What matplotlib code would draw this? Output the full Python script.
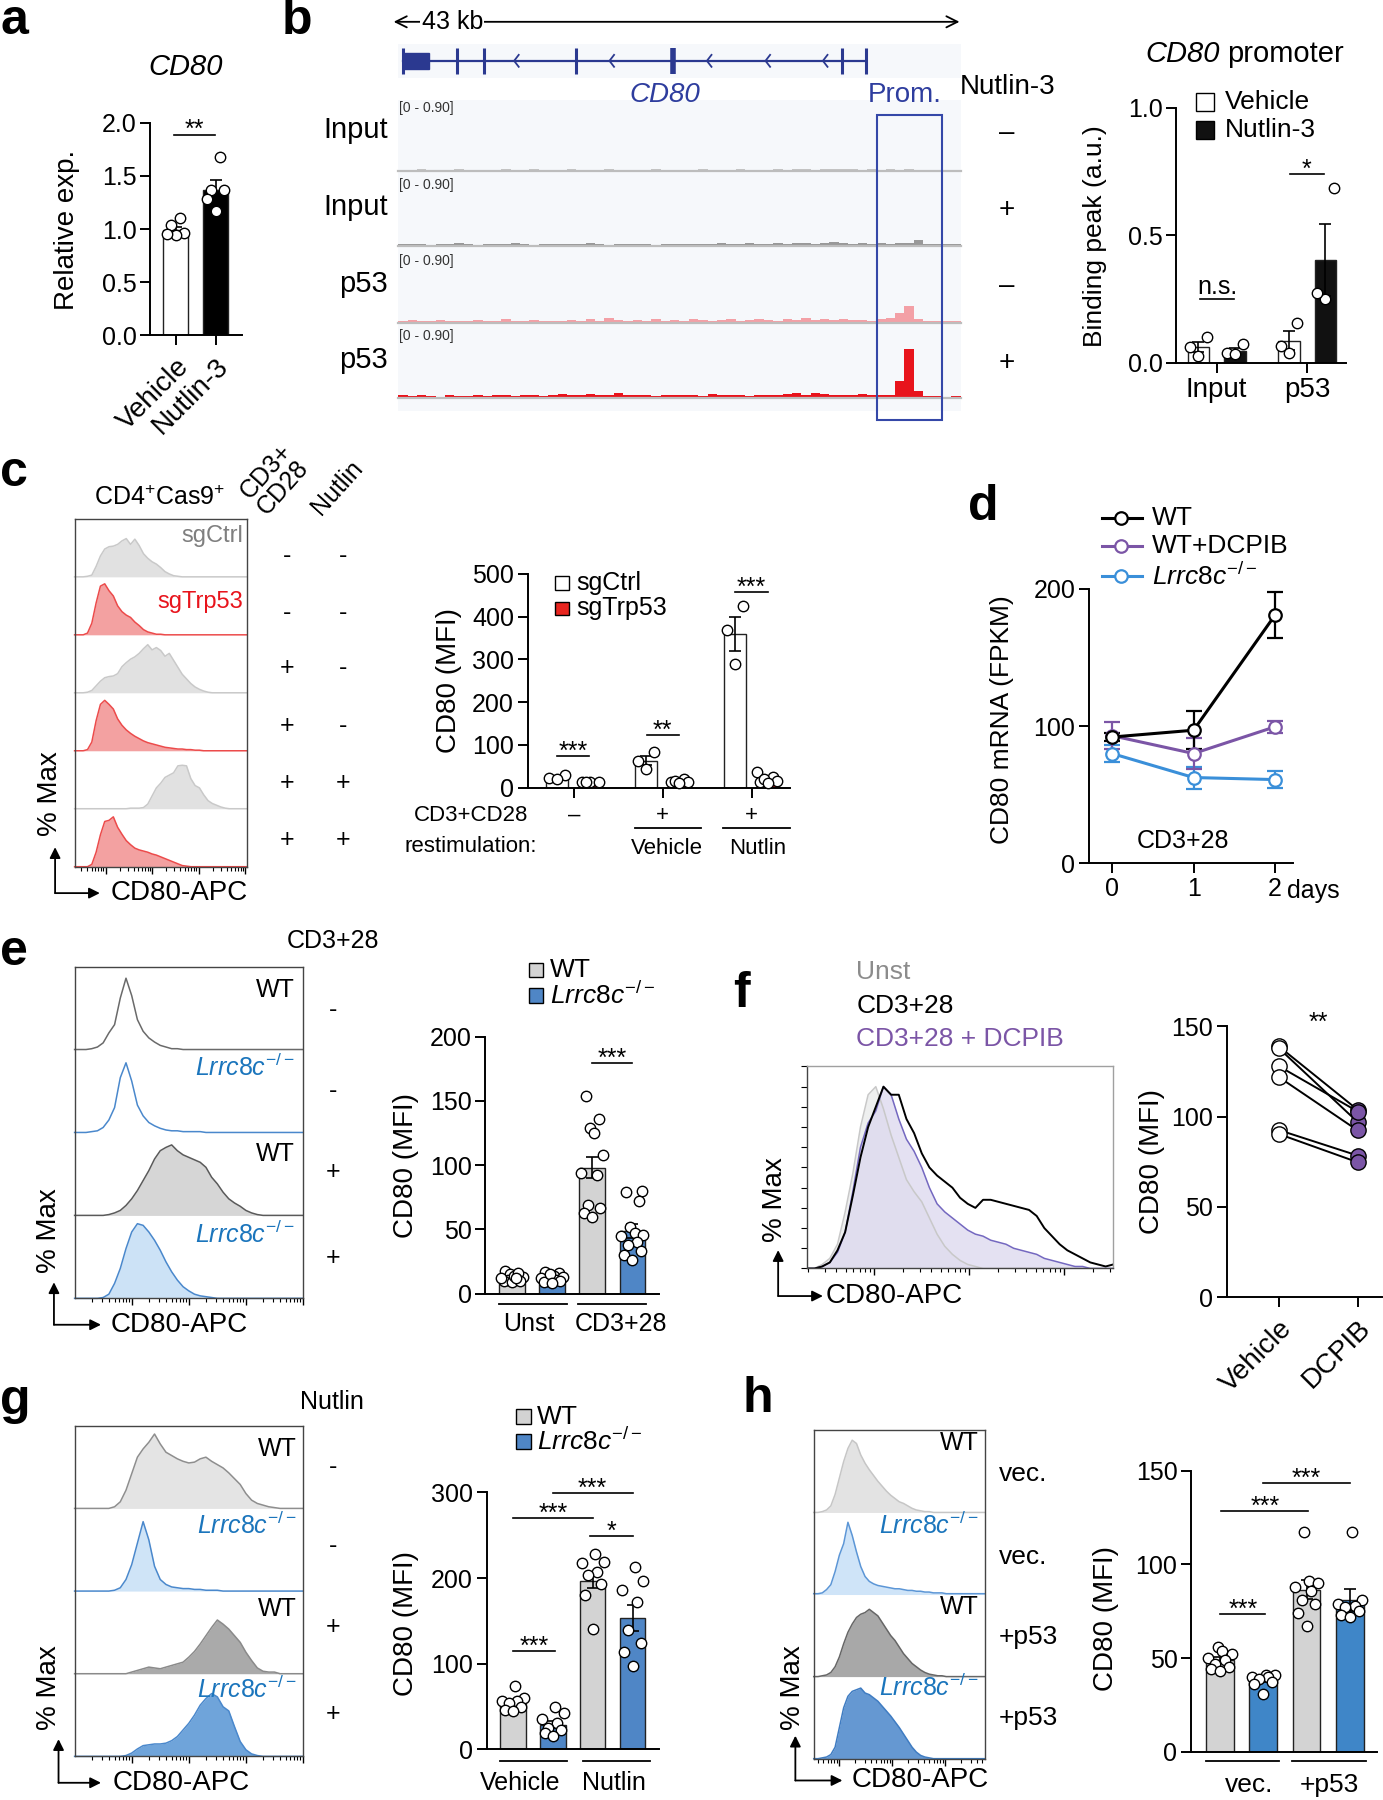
import numpy as np
import matplotlib
matplotlib.use('Agg')
import matplotlib.pyplot as plt
from matplotlib.lines import Line2D
from matplotlib.patches import Rectangle, FancyArrowPatch

plt.rcParams['font.family'] = ['Liberation Sans', 'DejaVu Sans']
plt.rcParams['mathtext.fontset'] = 'custom'
plt.rcParams['mathtext.rm'] = 'Liberation Sans'
plt.rcParams['mathtext.it'] = 'Liberation Sans:italic'
plt.rcParams['mathtext.bf'] = 'Liberation Sans:bold'
plt.rcParams['mathtext.sf'] = 'Liberation Sans'

# ======================= DATA =======================
# panel a
a_groups = ['Vehicle', 'Nutlin-3']
a_means = [0.99, 1.37]
a_sems = [0.03, 0.09]
a_points = [[1.10, 1.04, 0.96, 0.94, 0.95], [1.68, 1.37, 1.37, 1.28, 1.17]]

# panel b (genome tracks, 60 bins across the locus, scale 0-0.90)
b_track_labels = ['Input', 'Input', 'p53', 'p53']
b_track_nutlin = ['–', '+', '–', '+']
b_track1 = [0.02, 0.01, 0.03, 0.02, 0.01, 0.02, 0.03, 0.01, 0.02, 0.01,
            0.02, 0.03, 0.01, 0.02, 0.04, 0.01, 0.02, 0.01, 0.03, 0.02,
            0.01, 0.02, 0.03, 0.01, 0.02, 0.01, 0.02, 0.03, 0.02, 0.01,
            0.02, 0.01, 0.03, 0.02, 0.01, 0.02, 0.04, 0.02, 0.01, 0.02,
            0.03, 0.02, 0.04, 0.03, 0.02, 0.04, 0.03, 0.03, 0.04, 0.02,
            0.03, 0.02, 0.03, 0.02, 0.03, 0.02, 0.01, 0.02, 0.01, 0.02]
b_track2 = [0.02, 0.03, 0.02, 0.01, 0.03, 0.02, 0.04, 0.02, 0.01, 0.02,
            0.03, 0.02, 0.05, 0.02, 0.01, 0.03, 0.02, 0.02, 0.03, 0.02,
            0.04, 0.02, 0.01, 0.02, 0.02, 0.03, 0.02, 0.01, 0.02, 0.02,
            0.03, 0.02, 0.03, 0.02, 0.04, 0.02, 0.03, 0.04, 0.02, 0.03,
            0.04, 0.03, 0.05, 0.04, 0.03, 0.05, 0.06, 0.04, 0.03, 0.04,
            0.03, 0.04, 0.03, 0.05, 0.04, 0.09, 0.02, 0.03, 0.02, 0.02]
b_track3 = [0.03, 0.04, 0.03, 0.02, 0.04, 0.03, 0.02, 0.03, 0.04, 0.02,
            0.03, 0.05, 0.03, 0.02, 0.04, 0.03, 0.02, 0.03, 0.04, 0.03,
            0.05, 0.03, 0.08, 0.04, 0.03, 0.04, 0.03, 0.05, 0.03, 0.04,
            0.03, 0.05, 0.04, 0.03, 0.04, 0.05, 0.03, 0.04, 0.06, 0.04,
            0.03, 0.05, 0.04, 0.07, 0.04, 0.05, 0.04, 0.05, 0.04, 0.04,
            0.03, 0.05, 0.08, 0.15, 0.26, 0.05, 0.02, 0.03, 0.02, 0.03]
b_track4 = [0.06, 0.04, 0.05, 0.03, 0.02, 0.05, 0.04, 0.03, 0.05, 0.04,
            0.06, 0.05, 0.04, 0.05, 0.06, 0.04, 0.05, 0.07, 0.06, 0.05,
            0.07, 0.06, 0.05, 0.08, 0.06, 0.05, 0.06, 0.04, 0.06, 0.05,
            0.06, 0.05, 0.04, 0.07, 0.06, 0.05, 0.06, 0.04, 0.05, 0.06,
            0.05, 0.07, 0.08, 0.06, 0.09, 0.07, 0.05, 0.06, 0.05, 0.07,
            0.06, 0.05, 0.06, 0.28, 0.79, 0.12, 0.03, 0.04, 0.02, 0.04]
b_gene_span_kb = [0.35, 35.8]
b_exon_block_kb = [0.35, 2.37]
b_exons_kb = [4.48, 6.58, 13.6, 33.96, 35.8]
b_thick_exon_kb = [20.97]
b_chevrons_kb = [8.86, 16.15, 23.6, 28.08, 32.47]

# panel b right (CD80 promoter)
bp_groups = ['Input', 'p53']
bp_means_veh = [0.063, 0.087]
bp_sems_veh = [0.02, 0.036]
bp_means_nut = [0.045, 0.403]
bp_sems_nut = [0.012, 0.142]
bp_pts_veh = [[0.10, 0.063, 0.026], [0.157, 0.066, 0.037]]
bp_pts_nut = [[0.073, 0.037, 0.034], [0.685, 0.249, 0.275]]

# panel c flow rows (% of max over CD80-APC bins)
c_h1 = [0, 0, 0, 1, 3, 18, 36, 48, 52, 53, 56, 62, 66, 56, 65, 54, 40, 32, 26, 22, 16, 9, 5, 2, 1,
        0, 0, 0, 0, 0, 0, 0, 0, 0, 0, 0, 0, 0, 0, 0, 0]
c_h2 = [0, 0, 0, 3, 20, 55, 84, 88, 76, 67, 50, 40, 34, 30, 22, 16, 9, 5, 3, 1, 1,
        0, 0, 0, 0, 0, 0, 0, 0, 0, 0, 0, 0, 0, 0, 0, 0, 0, 0, 0, 0]
c_h3 = [0, 0, 0, 1, 4, 12, 20, 26, 28, 29, 33, 45, 52, 58, 62, 68, 76, 83, 74, 78, 73, 63, 68, 56, 44,
        32, 24, 16, 10, 6, 3, 1, 0, 0, 0, 0, 0, 0, 0, 0, 0]
c_h4 = [0, 0, 0, 2, 15, 52, 80, 87, 80, 72, 55, 44, 36, 30, 25, 21, 17, 14, 12, 10, 8, 6, 5, 4, 3,
        3, 2, 2, 1, 1, 0, 0, 0, 0, 0, 0, 0, 0, 0, 0, 0]
c_h5 = [0, 0, 0, 0, 0, 0, 0, 0, 0, 0, 0, 0, 0, 1, 1, 1, 2, 8, 22, 36, 44, 54, 58, 62, 74,
        75, 74, 52, 40, 36, 24, 14, 9, 6, 3, 1, 0, 0, 0, 0, 0]
c_h6 = [0, 0, 0, 0, 4, 25, 55, 78, 80, 86, 68, 56, 45, 38, 32, 29, 27, 25, 22, 20, 17, 14, 11, 8, 5,
        2, 1, 0, 0, 0, 0, 0, 0, 0, 0, 0, 0, 0, 0, 0, 0]
c_cd3 = ['-', '-', '+', '+', '+', '+']
c_nut = ['-', '-', '-', '-', '+', '+']

# panel c bars
c_groups = ['–', '+', '+']
c_means_ctrl = [25, 63, 360]
c_sems_ctrl = [2, 11, 40]
c_means_trp = [13, 13, 18]
c_sems_trp = [0.5, 1.5, 5]
c_pts_ctrl = [[23, 29, 21], [83, 62, 44], [426, 368, 290]]
c_pts_trp = [[13, 12, 14, 13], [19, 14, 12, 16, 11], [37, 25, 15, 13, 19, 10]]

# panel d
d_days = [0, 1, 2]
d_wt = [92, 97, 181]
d_wt_err = [3, 14, 16.5]
d_dcpib = [93, 80, 99.5]
d_dcpib_err = [10, 11, 4.5]
d_lrrc = [80, 62.5, 61]
d_lrrc_err = [6, 8, 6]

# panel e flow
e_h1 = [0, 0, 0, 1, 3, 8, 20, 30, 62, 86, 65, 36, 22, 14, 9, 5, 3, 1, 1,
        0, 0, 0, 0, 0, 0, 0, 0, 0, 0, 0, 0, 0, 0, 0, 0, 0, 0, 0, 0, 0, 0]
e_h2 = [0, 0, 0, 1, 2, 6, 15, 30, 66, 84, 62, 33, 20, 12, 8, 5, 3, 2, 2, 1, 1, 1, 1,
        0, 0, 0, 0, 0, 0, 0, 0, 0, 0, 0, 0, 0, 0, 0, 0, 0, 0]
e_h3 = [0, 0, 0, 0, 0, 0, 1, 3, 6, 12, 20, 30, 42, 54, 68, 78, 82, 85, 78, 73, 70, 67, 64, 58, 46,
        38, 28, 20, 15, 11, 6, 3, 1, 0, 0, 0, 0, 0, 0, 0, 0]
e_h4 = [0, 0, 0, 0, 0, 1, 5, 18, 36, 60, 80, 90, 88, 80, 70, 58, 44, 32, 22, 14, 9, 5, 3, 2, 1,
        0, 0, 0, 0, 0, 0, 0, 0, 0, 0, 0, 0, 0, 0, 0, 0]
e_stim = ['-', '-', '+', '+']
# panel e bars
e_groups = ['Unst', 'CD3+28']
e_means = [12.2, 11.7, 98, 48.5]
e_sems = [0.8, 0.8, 8, 5.5]
e_pts = [[18, 15, 13, 11, 10, 9, 12, 14, 16, 10, 12],
         [17, 16, 14, 12, 10, 9, 11, 13, 15, 10, 8],
         [154, 136, 129, 125, 108, 94, 92, 69, 67, 63, 60],
         [80, 79, 72, 52, 47, 46, 40, 38, 33, 30, 26, 45]]

# panel f flow
f_unst = [0, 0, 2, 5, 12, 28, 47, 70, 86, 90, 79, 66, 55, 44, 38, 33, 25, 17, 11, 7, 4, 2, 1,
          0, 0, 0, 0, 0, 0, 0, 0, 0, 0, 0, 0, 0, 0, 0, 0, 0, 0]
f_dcpib = [0, 0, 1, 3, 8, 18, 38, 60, 72, 78, 90, 86, 74, 64, 58, 50, 40, 32, 28, 25, 22, 19, 17, 16, 14,
           13, 12, 10, 9, 8, 7, 5, 4, 3, 2, 1, 1, 0, 0, 0, 0]
f_cd3 = [0, 0, 1, 3, 9, 18, 36, 55, 70, 80, 90, 86, 86, 74, 67, 57, 50, 46, 43, 40, 35, 32, 30, 34, 34,
         33, 32, 31, 30, 29, 26, 20, 16, 12, 9, 7, 5, 3, 2, 1, 2]
# panel f paired
f_groups = ['Vehicle', 'DCPIB']
f_vehicle = [139, 138, 128, 122, 92.6, 90.4]
f_dcpib_mfi = [103.7, 96.9, 102.8, 92.3, 78.4, 74.7]

# panel g flow
g_h1 = [0, 0, 0, 0, 0, 0, 0, 2, 8, 22, 42, 62, 72, 80, 90, 78, 68, 64, 60, 57, 55, 56, 60, 62, 57,
        53, 49, 43, 36, 29, 18, 10, 6, 4, 2, 1, 0, 0, 0, 0, 0]
g_h2 = [0, 0, 0, 0, 0, 0, 0, 1, 4, 14, 32, 58, 84, 62, 30, 14, 8, 5, 4, 3, 3, 2, 2, 1, 1,
        1, 0, 0, 0, 0, 0, 0, 0, 0, 0, 0, 0, 0, 0, 0, 0]
g_h3 = [0, 0, 0, 0, 0, 0, 0, 0, 0, 0, 2, 4, 6, 8, 7, 6, 8, 10, 12, 14, 20, 27, 36, 46, 56,
        65, 60, 54, 46, 38, 26, 16, 7, 3, 2, 2, 0, 0, 0, 0, 0]
g_h4 = [0, 0, 0, 0, 0, 0, 0, 0, 0, 1, 4, 9, 13, 14, 15, 15, 16, 19, 24, 32, 40, 50, 62, 70, 76,
        72, 60, 55, 36, 18, 8, 3, 1, 0, 0, 0, 0, 0, 0, 0, 0]
g_nut = ['-', '-', '+', '+']
# panel g bars
g_groups = ['Vehicle', 'Nutlin']
g_means = [53, 29, 197, 153]
g_sems = [3, 4, 9, 15]
g_pts = [[73.5, 60, 57, 56, 54, 50, 46.5, 44.5],
         [50, 42.6, 35.6, 31, 25, 23, 19, 15.5],
         [228, 217, 219, 207, 203, 193.5, 180, 141],
         [213, 197, 186, 172.5, 139, 124, 114, 97.5]]

# panel h flow
h_h1 = [0, 0, 1, 3, 8, 22, 42, 62, 78, 88, 84, 70, 60, 52, 45, 38, 32, 26, 21, 17, 13, 11, 8, 5, 3,
        2, 1, 1, 0, 0, 0, 0, 0, 0, 0, 0, 0, 0, 0, 0, 0]
h_h2 = [1, 1, 2, 6, 12, 28, 48, 62, 88, 72, 52, 34, 22, 16, 13, 11, 10, 9, 8, 7, 7, 6, 5, 5, 4,
        4, 3, 3, 2, 2, 2, 1, 1, 1, 1, 1, 1, 1, 1, 1, 1]
h_h3 = [0, 0, 1, 2, 5, 12, 24, 40, 54, 64, 72, 76, 78, 82, 78, 74, 66, 58, 50, 44, 36, 28, 22, 16, 12,
        8, 5, 3, 2, 1, 1, 0, 0, 0, 0, 0, 0, 0, 0, 0, 0]
h_h4 = [0, 0, 1, 2, 5, 14, 38, 62, 76, 82, 84, 86, 80, 78, 74, 70, 64, 58, 52, 45, 38, 30, 22, 14, 8,
        4, 2, 1, 0, 0, 0, 0, 0, 0, 0, 0, 0, 0, 0, 0, 0]
h_cond = ['vec.', 'vec.', '+p53', '+p53']
# panel h bars
h_groups = ['vec.', '+p53']
h_means = [48.8, 38.5, 86.5, 81]
h_sems = [1.5, 1.2, 5, 5.8]
h_pts = [[56, 54, 52, 50, 49, 47, 45, 44, 43],
         [41, 41, 40, 40, 39, 37, 36, 31],
         [117, 91, 90, 88, 86, 81, 79, 74, 67],
         [117, 81, 79, 78, 77, 75, 73, 72]]

# ======================= LAYOUT HELPERS =======================
W, H = 1205.0, 1568.0
fig = plt.figure(figsize=(13.83, 18.0), dpi=100)

GREY = '#D3D3D3'
BLUE = '#4F86C6'
BLUE_T = '#1B75BC'
PURPLE = '#7B55A6'
RED = '#E8251F'
LRRC = r'$\mathit{Lrrc8c}^{-/-}$'


def fx(x):
    return x / W


def fy(y):
    return 1 - y / H


def AX(x0, y0, x1, y1):
    return fig.add_axes([fx(x0), fy(y1), (x1 - x0) / W, (y1 - y0) / H])


def T(x, y, s, size=18, ha='center', va='center', **kw):
    fig.text(fx(x), fy(y), s, fontsize=size, ha=ha, va=va, **kw)


def L(x0, y0, x1, y1, lw=1.3, color='k'):
    fig.add_artist(Line2D([fx(x0), fx(x1)], [fy(y0), fy(y1)], lw=lw, color=color,
                          transform=fig.transFigure))


def ARROW(x0, y0, x1, y1):
    fig.add_artist(FancyArrowPatch((fx(x0), fy(y0)), (fx(x1), fy(y1)), transform=fig.transFigure,
                                   arrowstyle='-|>', mutation_scale=16, lw=1.3, color='k',
                                   shrinkA=0, shrinkB=0))


def SQ(x, y, s, fc, ec='k'):
    fig.add_artist(Rectangle((fx(x - s / 2), fy(y + s / 2)), s / W, s / H, fc=fc, ec=ec, lw=1.0,
                             transform=fig.transFigure))


def letter(x, y, s):
    T(x, y, s, size=36, ha='left', va='baseline', fontweight='bold')


def style(ax, ymax, yticks, xlim, yticklabels=None):
    ax.set_xlim(*xlim)
    ax.set_ylim(0, ymax)
    for s in ('top', 'right'):
        ax.spines[s].set_visible(False)
    for s in ('left', 'bottom'):
        ax.spines[s].set_linewidth(1.4)
    ax.spines['left'].set_bounds(0, ymax)
    ax.set_yticks(yticks)
    if yticklabels is not None:
        ax.set_yticklabels(yticklabels)
    ax.tick_params(axis='both', width=1.4, length=7, labelsize=18, pad=3)
    ax.patch.set_visible(False)


JIT = np.array([0, -0.75, 0.75, -0.4, 0.4, -1, 1, 0.2, -0.2, 0.6, -0.6, 0.9, -0.9])


def bars(ax, pos, means, sems, fcs, points, width, ms=7.5, spread=0.8, ec='#222222'):
    for p, m, s, fc, pts in zip(pos, means, sems, fcs, points):
        ax.bar(p, m, width=width, color=fc, edgecolor=ec, linewidth=1.0, zorder=2)
        ax.errorbar(p, m, yerr=s, color='k', capsize=4, capthick=1.2, elinewidth=1.2, zorder=3)
        order = np.argsort(pts)
        offs = np.zeros(len(pts))
        offs[order] = JIT[:len(pts)] * width * spread / 2
        ax.plot(p + offs, pts, 'o', mfc='white', mec='k', mew=1.0, ms=ms, zorder=4, clip_on=False)


def sig(ax, x0, x1, y, text, size=18, dy=-2):
    ax.plot([x0, x1], [y, y], color='k', lw=1.2, clip_on=False)
    ax.annotate(text, xy=((x0 + x1) / 2, y), xytext=(0, dy), textcoords='offset points',
                ha='center', va='baseline', fontsize=size, annotation_clip=False)


def flow_box(x0, y0, x1, y1, starts, width, left_ticks=False):
    box = AX(x0, y0, x1, y1)
    box.patch.set_visible(False)
    box.set_xlim(0, 1)
    box.set_ylim(0, 1)
    for s in box.spines.values():
        s.set_linewidth(1.0)
        s.set_color('#444444')
    majors = [s + width for s in starts]
    minors = []
    for s in starts:
        for k in range(2, 10):
            v = s + width * np.log10(k)
            if 0 < v < 1:
                minors.append(v)
    box.set_xticks([m for m in majors if 0 < m <= 1])
    box.set_xticks(minors, minor=True)
    box.set_xticklabels([])
    box.tick_params(axis='x', which='major', length=5, width=1.0, direction='out')
    box.tick_params(axis='x', which='minor', length=3, width=0.8, direction='out')
    if left_ticks:
        box.set_yticks(np.arange(0, 1.01, 0.1))
        box.set_yticklabels([])
        box.tick_params(axis='y', length=4, width=0.8, direction='out')
    else:
        box.set_yticks([])
    return box


def flow_rows(x0, y0, x1, y1, rows):
    n = len(rows)
    hgt = (y1 - y0) / n
    for i, (ys, fc, ec) in enumerate(rows):
        ax = AX(x0, y0 + i * hgt, x1, y0 + (i + 1) * hgt)
        xs = np.linspace(0, 1, len(ys))
        yv = np.array(ys) / 100.0
        ax.fill_between(xs, 0, yv, color=fc, lw=0)
        ax.plot(xs, yv, color=ec, lw=1.1, clip_on=False)
        ax.set_xlim(0, 1)
        ax.set_ylim(0, 1)
        ax.axis('off')


def flow_axes_labels(xm, ym, cx, cy, up_y, right_x, text_x):
    T(xm, ym, '% Max', size=20, rotation=90)
    ARROW(cx, cy, cx, up_y)
    ARROW(cx, cy, right_x, cy)
    T(text_x, cy, 'CD80-APC', size=20, ha='left')


# ======================= PANEL a =======================
letter(0, 30, 'a')
T(162, 58, 'CD80', size=21, fontstyle='italic')
ax = AX(131, 107, 211, 292)
style(ax, 2.0, [0, 0.5, 1.0, 1.5, 2.0], (-0.63, 1.66), ['0.0', '0.5', '1.0', '1.5', '2.0'])
bars(ax, [0, 1], a_means, a_sems, ['white', 'black'], a_points, 0.63, spread=0.9)
ax.set_xticks([0, 1])
ax.set_xticklabels(a_groups, rotation=45, ha='right', rotation_mode='anchor', fontsize=20)
ax.tick_params(axis='x', pad=6)
sig(ax, -0.04, 0.98, 1.89, '**')
T(58, 200, 'Relative exp.', size=20, rotation=90)

# ======================= PANEL b =======================
letter(245, 30, 'b')
fig.add_artist(FancyArrowPatch((fx(343), fy(19)), (fx(836), fy(19)), transform=fig.transFigure,
                               arrowstyle='<->', mutation_scale=20, lw=1.3, color='k',
                               shrinkA=0, shrinkB=0))
T(394, 19, '43 kb', size=18, bbox=dict(fc='white', ec='none', pad=1))
fig.add_artist(Rectangle((fx(347), fy(68)), 490 / W, 30 / H, fc='#F6F8FB', ec='none',
                         transform=fig.transFigure, zorder=0))
fig.add_artist(Rectangle((fx(347), fy(358)), 490 / W, 271 / H, fc='#F6F8FB', ec='none',
                         transform=fig.transFigure, zorder=0))
gx = AX(347, 40, 837, 66)
gx.set_xlim(0, 43)
gx.set_ylim(-1, 1)
gx.axis('off')
GC = '#2B3990'
gx.plot(b_gene_span_kb, [0, 0], color=GC, lw=1.6)
gx.add_patch(Rectangle((b_exon_block_kb[0], -0.55), b_exon_block_kb[1] - b_exon_block_kb[0], 1.1,
                       fc=GC, ec=GC))
gx.vlines([b_exon_block_kb[0]] + b_exons_kb, -0.85, 0.85, color=GC, lw=2.2)
gx.vlines(b_thick_exon_kb, -0.85, 0.85, color=GC, lw=4)
for c in b_chevrons_kb:
    gx.plot([c + 0.35, c, c + 0.35], [0.4, 0, -0.4], color=GC, lw=1.3)
T(579, 83, 'CD80', size=20, color='#2E3D9E', fontstyle='italic')
T(788, 83, 'Prom.', size=20, color='#2E3D9E')
T(878, 76, 'Nutlin-3', size=20)

tracks = [b_track1, b_track2, b_track3, b_track4]
tcols = ['#C4C4C4', '#999999', '#F3A0A6', '#E8141C']
baselines = [149, 214, 281, 347]
label_y = [113, 180, 247, 314]
sign_y = [116, 183, 249, 316]
rng_y = [94, 161, 227, 293]
for tr, col, yb, ly, sy, ry, lab, sgn in zip(tracks, tcols, baselines, label_y, sign_y, rng_y,
                                              b_track_labels, b_track_nutlin):
    tx = AX(347, yb - 49, 837, yb)
    tx.bar(np.arange(len(tr)), tr, width=1.0, align='edge', color=col, lw=0)
    tx.axhline(0, color='#BDBDBD', lw=1.6, clip_on=False)
    tx.set_xlim(0, len(tr))
    tx.set_ylim(0, 0.9)
    tx.axis('off')
    T(338, ly, lab, size=21, ha='right')
    T(877, sy, sgn, size=20)
    T(348, ry, '[0 - 0.90]', size=10, ha='left', color='#333333')
fig.add_artist(Rectangle((fx(764), fy(366)), 57 / W, 266 / H, fc='none', ec='#3548A8', lw=1.5,
                         transform=fig.transFigure))

# b right bar chart
T(1063, 47, 'CD80', size=21, ha='right', fontstyle='italic')
T(1069, 47, 'promoter', size=21, ha='left')
ax = AX(1025, 94, 1173, 316)
style(ax, 1.0, [0, 0.5, 1.0], (-0.443, 1.43), ['0.0', '0.5', '1.0'])
bars(ax, [-0.2, 0.8], bp_means_veh, bp_sems_veh, ['white', 'white'], bp_pts_veh, 0.24, spread=1.0)
bars(ax, [0.2, 1.2], bp_means_nut, bp_sems_nut, ['#111111', '#111111'], bp_pts_nut, 0.24, spread=1.0)
ax.set_xticks([0, 1])
ax.set_xticklabels(bp_groups, fontsize=20)
sig(ax, -0.18, 0.19, 0.252, 'n.s.', dy=3)
sig(ax, 0.81, 1.18, 0.739, '*')
T(954, 206, 'Binding peak (a.u.)', size=19, rotation=90)
SQ(1050, 89, 16, 'white')
SQ(1050, 113, 16, '#111111')
T(1067, 89, 'Vehicle', size=19, ha='left')
T(1067, 113, 'Nutlin-3', size=19, ha='left')

# ======================= PANEL c =======================
letter(0, 423, 'c')
T(139, 434, r'CD4$^{+}$Cas9$^{+}$', size=18)
fig.text(fx(236), fy(452), 'CD3+\nCD28', fontsize=18, rotation=48, ha='left', va='bottom',
         rotation_mode='anchor', linespacing=0.95)
fig.text(fx(283), fy(452), 'Nutlin', fontsize=18, rotation=48, ha='left', va='bottom',
         rotation_mode='anchor')
CG = ('#E1E1E1', '#C9C9C9')
CR = ('#F3A1A1', '#EC4B4B')
flow_rows(65, 452, 215, 755, [(c_h1,) + CG, (c_h2,) + CR, (c_h3,) + CG, (c_h4,) + CR,
                              (c_h5,) + CG, (c_h6,) + CR])
flow_box(65, 452, 215, 755, [-0.09, 0.18, 0.45, 0.72], 0.27)
T(212, 467, 'sgCtrl', size=17, ha='right', color='#7F7F7F')
T(212, 524, 'sgTrp53', size=17, ha='right', color='#E8141C')
for yy, s1, s2 in zip([484, 534, 582, 632, 682, 732], c_cd3, c_nut):
    T(250, yy, s1, size=18)
    T(299, yy, s2, size=18)
flow_axes_labels(44, 691, 48, 778, 738, 87, 96)

# c bars
ax = AX(460, 500, 688, 686)
style(ax, 500, [0, 100, 200, 300, 400, 500], (-0.516, 2.426))
bars(ax, [-0.187, 0.813, 1.813], c_means_ctrl, c_sems_ctrl, ['white'] * 3, c_pts_ctrl, 0.245, spread=1.0)
bars(ax, [0.187, 1.187, 2.187], c_means_trp, c_sems_trp, [RED] * 3, c_pts_trp, 0.245, spread=1.0)
ax.set_xticks([0, 1, 2])
ax.set_xticklabels([])
sig(ax, -0.19, 0.17, 72.6, '***')
sig(ax, 0.82, 1.18, 123.7, '**')
sig(ax, 1.81, 2.18, 457, '***')
T(391, 593, 'CD80 (MFI)', size=20, rotation=90)
SQ(490, 508, 12, 'white')
SQ(490, 530, 12, RED)
T(502, 508, 'sgCtrl', size=18, ha='left')
T(502, 530, 'sgTrp53', size=18, ha='left')
T(410, 710, 'CD3+CD28', size=16)
T(410, 737, 'restimulation:', size=16)
for xg, s in zip([500, 577, 655], c_groups):
    T(xg, 710, s, size=16)
L(553, 721, 611, 721)
L(630, 721, 688, 721)
T(581, 739, 'Vehicle', size=16)
T(660, 739, 'Nutlin', size=16)

# ======================= PANEL d =======================
letter(843, 453, 'd')
ax = AX(949, 513, 1127, 752)
style(ax, 200, [0, 100, 200], (-0.28, 2.225))
for vals, errs, col in [(d_lrrc, d_lrrc_err, '#3A8FD9'), (d_dcpib, d_dcpib_err, PURPLE),
                        (d_wt, d_wt_err, 'black')]:
    ax.errorbar(d_days, vals, yerr=errs, color=col, lw=2.2, capsize=6, capthick=1.6,
                elinewidth=1.6, marker='o', mfc='white', mec=col, mew=1.6, ms=9, zorder=3)
ax.set_xticks(d_days)
ax.set_xticklabels(['0', '1', '2'])
T(1121, 776, 'days', size=18, ha='left')
T(1031, 733, 'CD3+28', size=18)
T(873, 627, 'CD80 mRNA (FPKM)', size=19, rotation=90)
for yy, col, lab in [(451, 'black', 'WT'), (476, PURPLE, 'WT+DCPIB'), (502, '#3A8FD9', LRRC)]:
    L(960, yy, 995, yy, lw=2.2, color=col)
    fig.add_artist(Line2D([fx(977)], [fy(yy)], marker='o', mfc='white', mec=col, mew=1.6, ms=9,
                          transform=fig.transFigure))
    T(1004, yy, lab, size=19, ha='left')

# ======================= PANEL e =======================
letter(0, 841, 'e')
T(290, 820, 'CD3+28', size=18)
flow_rows(65, 842, 264, 1131, [(e_h1, 'white', '#6A6A6A'), (e_h2, 'white', '#4A88CC'),
                               (e_h3, '#D6D6D6', '#5A5A5A'), (e_h4, '#CCE2F6', '#4A88CC')])
flow_box(65, 842, 264, 1131, [0.0, 0.25, 0.5, 0.75], 0.25)
for yy, lab, col in [(862, 'WT', 'k'), (930, LRRC, BLUE_T), (1005, 'WT', 'k'), (1075, LRRC, BLUE_T)]:
    T(257, yy, lab, size=18, ha='right', color=col)
for yy, s in zip([880, 950, 1021, 1096], e_stim):
    T(290, yy, s, size=18)
flow_axes_labels(43, 1072, 47, 1154, 1117, 88, 96)

ax = AX(423, 903, 574, 1127)
style(ax, 200, [0, 50, 100, 150, 200], (-0.657, 3.657))
bars(ax, [0, 1, 2, 3], e_means, e_sems, [GREY, BLUE, GREY, BLUE], e_pts, 0.64, spread=0.85)
ax.set_xticks([])
sig(ax, 2.0, 3.0, 179.5, '***')
T(354, 1015, 'CD80 (MFI)', size=20, rotation=90)
SQ(467, 845, 13, GREY)
SQ(467, 867, 13, BLUE)
T(479, 845, 'WT', size=19, ha='left')
T(479, 867, LRRC, size=19, ha='left')
L(435, 1136, 494, 1136)
L(504, 1136, 563, 1136)
T(461, 1153, e_groups[0], size=18)
T(541, 1153, e_groups[1], size=18)

# ======================= PANEL f =======================
letter(639, 877, 'f')
T(746, 847, 'Unst', size=19, ha='left', color='#8C8C8C')
T(746, 876, 'CD3+28', size=19, ha='left')
T(746, 905, 'CD3+28 + DCPIB', size=19, ha='left', color=PURPLE)
fx_ax = AX(703, 929, 970, 1105)
xs = np.linspace(0, 1, len(f_unst))
fx_ax.fill_between(xs, 0, np.array(f_unst) / 100, color='#EEEFEF', lw=0)
fx_ax.plot(xs, np.array(f_unst) / 100, color='#C8C8C8', lw=1.1)
fx_ax.fill_between(xs, 0, np.array(f_dcpib) / 100, color='#DCD8EE', alpha=0.75, lw=0)
fx_ax.plot(xs, np.array(f_dcpib) / 100, color='#7468C0', lw=1.1)
fx_ax.plot(xs, np.array(f_cd3) / 100, color='black', lw=1.4)
fx_ax.set_xlim(0, 1)
fx_ax.set_ylim(0, 1.0)
fx_ax.axis('off')
fbox = flow_box(703, 929, 970, 1105, [-0.09, 0.22, 0.53, 0.84], 0.31, left_ticks=True)
for s in fbox.spines.values():
    s.set_color('#A0A0A0')
fbox.spines['left'].set_color('#444444')
fbox.spines['bottom'].set_color('#444444')
flow_axes_labels(675, 1045, 678, 1129, 1089, 717, 719)

ax = AX(1069, 894, 1204, 1130)
style(ax, 150, [0, 50, 100, 150], (-0.652, 1.304))
for v1, v2 in zip(f_vehicle, f_dcpib_mfi):
    ax.plot([0, 1], [v1, v2], color='k', lw=1.4, zorder=2)
ax.plot(np.zeros(len(f_vehicle)), f_vehicle, 'o', mfc='white', mec='k', mew=1.0, ms=11, zorder=3)
ax.plot(np.ones(len(f_dcpib_mfi)), f_dcpib_mfi, 'o', mfc=PURPLE, mec='k', mew=1.0, ms=11, zorder=3)
ax.set_xticks([0, 1])
ax.set_xticklabels(f_groups, rotation=45, ha='right', rotation_mode='anchor', fontsize=20)
ax.tick_params(axis='x', pad=6)
ax.annotate('**', xy=(0.5, 148), ha='center', va='baseline', fontsize=18, annotation_clip=False)
T(1004, 1012, 'CD80 (MFI)', size=20, rotation=90)

# ======================= PANEL g =======================
letter(0, 1232, 'g')
T(289, 1221, 'Nutlin', size=18)
flow_rows(65, 1242, 264, 1530, [(g_h1, '#E4E4E4', '#8E8E8E'), (g_h2, '#CFE4F7', '#4A88CC'),
                                (g_h3, '#AAAAAA', '#8A8A8A'), (g_h4, '#6FA4DA', '#4A88CC')])
flow_box(65, 1242, 264, 1530, [0.0, 0.25, 0.5, 0.75], 0.25)
for yy, lab, col in [(1262, 'WT', 'k'), (1329, LRRC, BLUE_T), (1402, 'WT', 'k'), (1472, LRRC, BLUE_T)]:
    T(259, yy, lab, size=18, ha='right', color=col)
for yy, s in zip([1278, 1347, 1417, 1493], g_nut):
    T(290, yy, s, size=18)
flow_axes_labels(43, 1470, 51, 1553, 1515, 88, 98)

ax = AX(424, 1300, 574, 1524)
style(ax, 300, [0, 100, 200, 300], (-0.657, 3.657))
bars(ax, [0, 1, 2, 3], g_means, g_sems, [GREY, BLUE, GREY, BLUE], g_pts, 0.64, spread=0.85)
ax.set_xticks([])
sig(ax, 1.0, 3.0, 298.7, '***')
sig(ax, 0.0, 2.0, 270.5, '***')
sig(ax, 1.94, 3.0, 249, '*')
sig(ax, 0.0, 1.05, 115, '***')
T(354, 1414, 'CD80 (MFI)', size=20, rotation=90)
SQ(456, 1234, 13, GREY)
SQ(456, 1256, 13, BLUE)
T(468, 1234, 'WT', size=19, ha='left')
T(468, 1256, LRRC, size=19, ha='left')
L(436, 1534, 494, 1534)
L(508, 1534, 566, 1534)
T(453, 1553, g_groups[0], size=18)
T(535, 1553, g_groups[1], size=18)

# ======================= PANEL h =======================
letter(647, 1230, 'h')
flow_rows(709, 1246, 858, 1532, [(h_h1, '#E3E3E3', '#C6C6C6'), (h_h2, '#CFE4F8', '#5C96D6'),
                                 (h_h3, '#A8A8A8', '#666666'), (h_h4, '#6598D2', '#3F7CC2')])
flow_box(709, 1246, 858, 1532, [-0.16, 0.15, 0.46, 0.77], 0.31)
for yy, lab, col in [(1257, 'WT', 'k'), (1329, LRRC, BLUE_T), (1400, 'WT', 'k'), (1470, LRRC, BLUE_T)]:
    T(853, yy, lab, size=18, ha='right', color=col)
for yy, s in zip([1284, 1356, 1426, 1497], h_cond):
    T(870, yy, s, size=19, ha='left')
flow_axes_labels(691, 1470, 693, 1551, 1512, 734, 742)

HB = '#3F86C8'
ax = AX(1038, 1281, 1200, 1526)
style(ax, 150, [0, 50, 100, 150], (-0.663, 3.634))
bars(ax, [0, 1, 2, 3], h_means, h_sems, [GREY, HB, GREY, HB], h_pts, 0.64, spread=0.85)
ax.set_xticks([])
sig(ax, 1.0, 3.0, 143.3, '***')
sig(ax, 0.03, 2.04, 128.6, '***')
sig(ax, 0.0, 1.05, 73.5, '***')
T(964, 1410, 'CD80 (MFI)', size=20, rotation=90)
L(1051, 1534, 1114, 1534)
L(1126, 1534, 1190, 1534)
T(1088, 1555, h_groups[0], size=19)
T(1158, 1555, h_groups[1], size=19)

fig.savefig('out.png', dpi=100)
